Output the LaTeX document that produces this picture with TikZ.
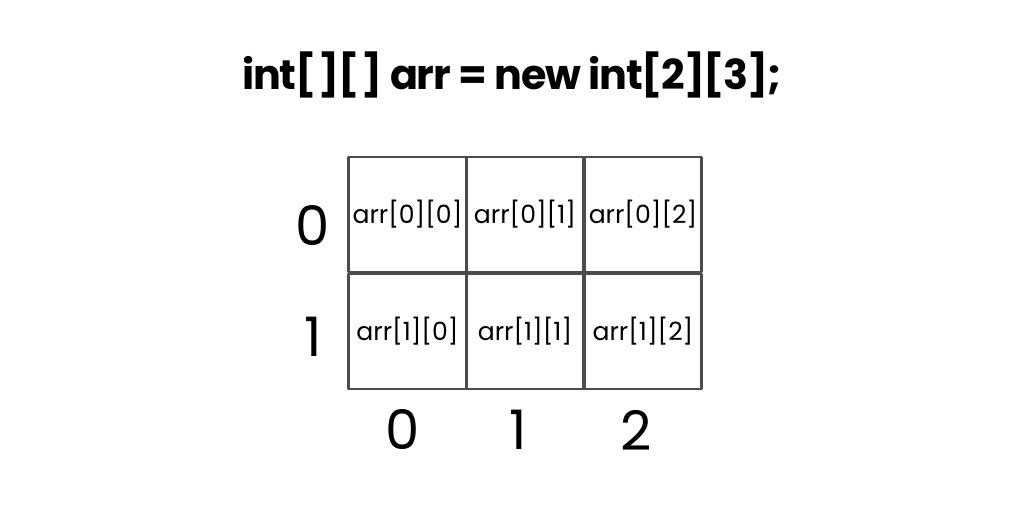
\documentclass[tikz,border=0pt]{standalone}
\usepackage{fontspec}
\setmainfont{Poppins}
\newfontfamily\titlefont[LetterSpace=-3]{Poppins}
\begin{document}
\begin{tikzpicture}[line width=1.6pt, line join=round, line cap=round,
	cell/.style={draw=black!70, rectangle, minimum width=2.35cm, minimum height=2.3cm, inner sep=0pt, font={\fontsize{14.3pt}{0pt}\selectfont}},
	idx/.style={font={\fontsize{31pt}{0pt}\selectfont}, inner sep=0pt}]
		\useasboundingbox (0,0) rectangle (20.48,10.24);
		\node[font={\fontsize{23.5pt}{0pt}\titlefont\bfseries}] (title) at (10.24,8.74) {int[\hspace{0.05em}][\hspace{0.05em}] arr = new int[2][3];};
		% cells
		\foreach \r/\y in {0/5.95,1/3.61}
		{
			\foreach \c/\x in {0/8.15,1/10.5,2/12.86}
			{\node[cell] (c\r\c) at (\x,\y) {arr[\r][\c]};}
		}
		% row and column indices
		\draw (6.26,5.72) node[idx] (row0) {0};
		\draw (6.26,3.5) node[idx] (row1) {1};
		\draw (8.06,1.64) node[idx] (col0) {0};
		\draw (10.36,1.64) node[idx] (col1) {1};
		\draw (12.72,1.64) node[idx] (col2) {2};
\end{tikzpicture}
\end{document}
